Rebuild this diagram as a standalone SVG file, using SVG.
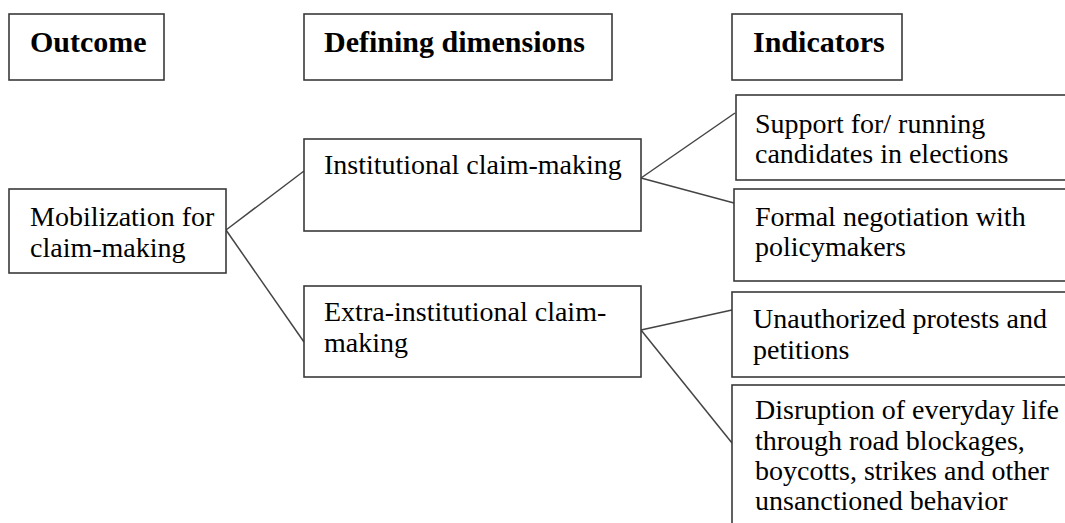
<svg xmlns="http://www.w3.org/2000/svg" width="1065" height="523" viewBox="0 0 1065 523">
<style>
.box{fill:#fff;stroke:#3a3a3a;stroke-width:1.6}
.h{font-family:"Liberation Serif","Times New Roman",serif;font-weight:bold;font-size:30px;fill:#000}
.t{font-family:"Liberation Serif","Times New Roman",serif;font-size:28px;fill:#000}
.c{stroke:#444;stroke-width:1.5;fill:none}
</style>
<rect width="1065" height="523" fill="#fff"/>
<g id="connectors">
<line class="c" x1="226" y1="230" x2="304" y2="171"/>
<line class="c" x1="226" y1="230" x2="304" y2="342"/>
<line class="c" x1="641" y1="178" x2="735" y2="113"/>
<line class="c" x1="641" y1="178" x2="734" y2="203"/>
<line class="c" x1="641" y1="330" x2="732" y2="310"/>
<line class="c" x1="641" y1="330" x2="732" y2="443"/>
</g>
<g id="outcome-header"><rect class="box" x="9" y="14" width="155" height="66"/><text class="h" x="30" y="52">Outcome</text></g>
<g id="dimensions-header"><rect class="box" x="304" y="14" width="308" height="66"/><text class="h" x="324" y="52">Defining dimensions</text></g>
<g id="indicators-header"><rect class="box" x="732" y="14" width="170" height="66"/><text class="h" x="753" y="52">Indicators</text></g>
<g id="mobilization"><rect class="box" x="9" y="189" width="217" height="84"/><text class="t" x="30" y="226">Mobilization for</text><text class="t" x="30" y="257">claim-making</text></g>
<g id="institutional"><rect class="box" x="304" y="139" width="337" height="92"/><text class="t" x="324" y="174">Institutional claim-making</text></g>
<g id="extra-institutional"><rect class="box" x="304" y="286" width="337" height="91"/><text class="t" x="324" y="321">Extra-institutional claim-</text><text class="t" x="324" y="352">making</text></g>
<g id="support"><rect class="box" x="736" y="95" width="340" height="85"/><text class="t" x="755" y="133">Support for/ running</text><text class="t" x="755" y="163">candidates in elections</text></g>
<g id="formal"><rect class="box" x="734" y="189" width="342" height="92"/><text class="t" x="755" y="226">Formal negotiation with</text><text class="t" x="755" y="256">policymakers</text></g>
<g id="unauthorized"><rect class="box" x="732" y="292" width="344" height="85"/><text class="t" x="753" y="328">Unauthorized protests and</text><text class="t" x="753" y="359">petitions</text></g>
<g id="disruption"><rect class="box" x="732" y="385" width="344" height="150"/><text class="t" x="755" y="419">Disruption of everyday life</text><text class="t" x="755" y="450">through road blockages,</text><text class="t" x="755" y="480">boycotts, strikes and other</text><text class="t" x="755" y="510">unsanctioned behavior</text></g>
</svg>
